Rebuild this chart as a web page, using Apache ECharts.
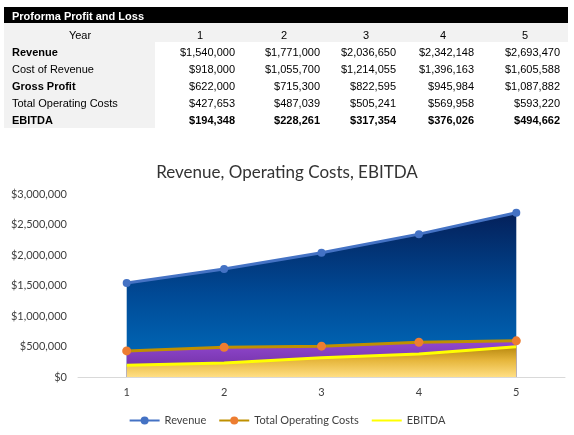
<!DOCTYPE html>
<html>
<head>
<meta charset="utf-8">
<script src="https://cdn.jsdelivr.net/npm/echarts@6/dist/echarts.min.js"></script>
<style>
html,body{margin:0;padding:0;background:#fff;}
#c{width:574px;height:435px;}
</style>
</head>
<body>
<div id="c"></div>
<script>
// ---- data ----
const tableTitle = 'Proforma Profit and Loss';
const years = ['1', '2', '3', '4', '5'];
const rowLabels = ['Revenue', 'Cost of Revenue', 'Gross Profit', 'Total Operating Costs', 'EBITDA'];
const labelBold = [true, false, true, false, true];
const valueBold = [false, false, false, false, true];
const revenue = [1540000, 1771000, 2036650, 2342148, 2693470];
const costOfRevenue = [918000, 1055700, 1214055, 1396163, 1605588];
const grossProfit = [622000, 715300, 822595, 945984, 1087882];
const totalOpCosts = [427653, 487039, 505241, 569958, 593220];
const ebitda = [194348, 228261, 317354, 376026, 494662];
const chartTitle = 'Revenue, Operating Costs, EBITDA';
const seriesNames = ['Revenue', 'Total Operating Costs', 'EBITDA'];

function money(v) {
  const s = String(Math.round(v));
  return '$' + s.replace(/\B(?=(\d{3})+(?!\d))/g, ',');
}

// ---- table layout ----
const rows = [revenue, costOfRevenue, grossProfit, totalOpCosts, ebitda];
const colCenters = [200, 284, 366, 443, 525];
const colRights = [235, 320, 396, 474, 560];
const rowY0 = 36, rowStep = 17;
const tFont = 'Liberation Sans, Arial, sans-serif';

function txt(text, x, y, align, bold, color) {
  return {
    type: 'text', silent: true,
    style: {
      text: text, x: x, y: y,
      align: align, verticalAlign: 'middle',
      textAlign: align, textVerticalAlign: 'middle',
      font: (bold ? 'bold ' : '') + '11px ' + tFont,
      fill: color || '#000'
    }
  };
}

const graphic = [
  { type: 'rect', silent: true, shape: { x: 4, y: 7, width: 564, height: 16 }, style: { fill: '#000' } },
  { type: 'rect', silent: true, shape: { x: 4, y: 23, width: 564, height: 19 }, style: { fill: '#f2f2f2' } },
  { type: 'rect', silent: true, shape: { x: 4, y: 42, width: 151, height: 86 }, style: { fill: '#f2f2f2' } },
  txt(tableTitle, 12, 17, 'left', true, '#fff'),
  txt('Year', 80, rowY0, 'center', false)
];
years.forEach((y, i) => graphic.push(txt(y, colCenters[i], rowY0, 'center', false)));
rowLabels.forEach((lab, r) => {
  const yy = rowY0 + rowStep * (r + 1);
  graphic.push(txt(lab, 12, yy, 'left', labelBold[r]));
  rows[r].forEach((v, i) => graphic.push(txt(money(v), colRights[i], yy, 'right', valueBold[r])));
});

const cFont = 'Lato, "Open Sans", sans-serif';
function grad(stops) {
  return { type: 'linear', x: 0, y: 0, x2: 0, y2: 1,
    colorStops: stops.map(s => ({ offset: s[0], color: s[1] })) };
}

const chart = echarts.init(document.getElementById('c'), null, { renderer: 'canvas' });
chart.setOption({
  animation: false,
  backgroundColor: '#fff',
  graphic: graphic,
  title: {
    text: chartTitle, left: 'center', top: 159,
    textStyle: { fontFamily: cFont, fontSize: 17, fontWeight: 'normal', color: '#333' }
  },
  legend: {
    data: seriesNames, left: 'center', top: 410, itemGap: 12,
    itemWidth: 30, itemHeight: 10,
    textStyle: { fontFamily: cFont, fontSize: 11, color: '#404040' }
  },
  grid: { left: 78, right: 9, top: 194, bottom: 58, containLabel: false },
  xAxis: {
    type: 'category', data: years, boundaryGap: true,
    axisLine: { lineStyle: { color: '#d9d9d9', width: 1 } },
    axisTick: { show: false },
    axisLabel: { fontFamily: cFont, fontSize: 11, color: '#404040', margin: 10 }
  },
  yAxis: {
    type: 'value', min: 0, max: 3000000, interval: 500000,
    splitLine: { show: false },
    axisLine: { show: false }, axisTick: { show: false },
    axisLabel: { fontFamily: cFont, fontSize: 11, color: '#404040', margin: 11, formatter: v => money(v) }
  },
  series: [
    {
      name: seriesNames[0], type: 'line', data: revenue,
      symbol: 'circle', symbolSize: 8,
      itemStyle: { color: '#4472c4' },
      lineStyle: { color: '#4472c4', width: 3 },
      areaStyle: { color: grad([[0, '#04205a'], [0.5, '#004a96'], [1, '#0070c0']]), opacity: 1 }
    },
    {
      name: seriesNames[1], type: 'line', data: totalOpCosts,
      symbol: 'circle', symbolSize: 9,
      itemStyle: { color: '#ed7d31' },
      lineStyle: { color: '#bf9000', width: 3 },
      areaStyle: { color: grad([[0, '#9248d0'], [1, '#6a2c9c']]), opacity: 1 }
    },
    {
      name: seriesNames[2], type: 'line', data: ebitda,
      symbol: 'none',
      itemStyle: { color: '#ffff00', opacity: 0 },
      lineStyle: { color: '#ffff00', width: 3 },
      areaStyle: { color: grad([[0, '#b8880e'], [0.45, '#e6b63c'], [1, '#ffdf84']]), opacity: 1 }
    }
  ]
});
</script>
</body>
</html>
